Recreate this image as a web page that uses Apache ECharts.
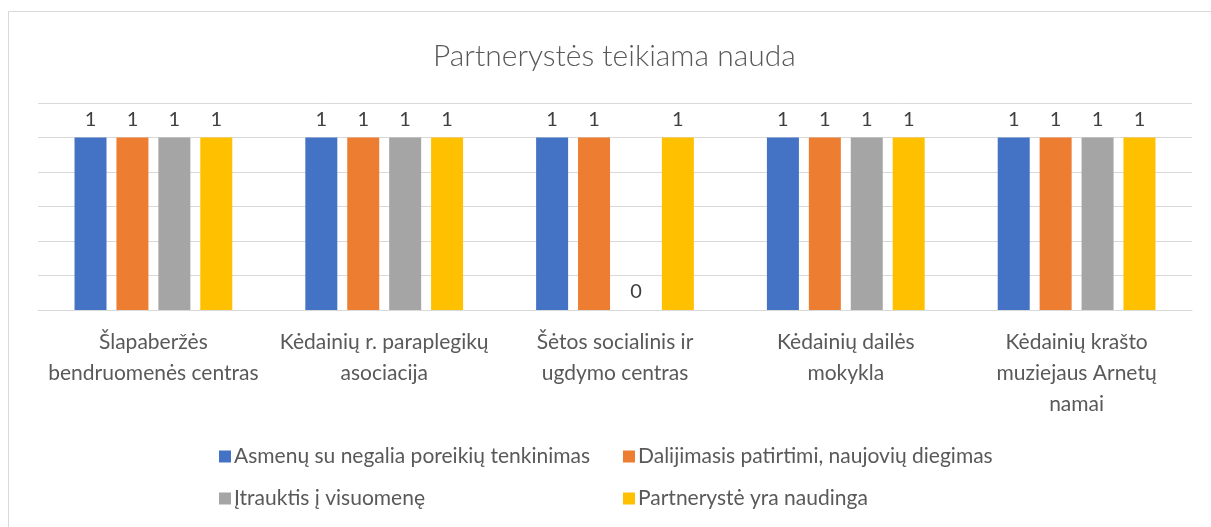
<!DOCTYPE html>
<html>
<head>
<meta charset="utf-8">
<script src="https://cdn.jsdelivr.net/npm/echarts@6/dist/echarts.min.js"></script>
<style>
  html, body { margin: 0; padding: 0; background: #fff; }
  #chart { width: 1211px; height: 527px; }
</style>
</head>
<body>
<div id="chart"></div>
<script>
const categories = [
  "Šlapaberžės\nbendruomenės centras",
  "Kėdainių r. paraplegikų\nasociacija",
  "Šėtos socialinis ir\nugdymo centras",
  "Kėdainių dailės\nmokykla",
  "Kėdainių krašto\nmuziejaus Arnetų\nnamai"
];
const seriesNames = [
  "Asmenų su negalia poreikių tenkinimas",
  "Dalijimasis patirtimi, naujovių diegimas",
  "Įtrauktis į visuomenę",
  "Partnerystė yra naudinga"
];
const needsValues = [1, 1, 1, 1, 1];
const sharingValues = [1, 1, 1, 1, 1];
const inclusionValues = [1, 1, 0, 1, 1];
const usefulValues = [1, 1, 1, 1, 1];
const colors = ["#4472c4", "#ed7d31", "#a5a5a5", "#ffc000"];

const font = "Lato, 'Open Sans', sans-serif";
const textColor = "#595959";

let dom = document.getElementById("chart");
let myChart = echarts.init(dom, null, { renderer: "canvas" });

const allValues = [needsValues, sharingValues, inclusionValues, usefulValues];

const makeLegend = (name, left, top) => ({
  data: [name],
  left: left,
  top: top,
  icon: "rect",
  itemWidth: 12,
  itemHeight: 12,
  itemGap: 0,
  textStyle: { fontFamily: font, fontSize: 21, color: textColor, padding: [0, 0, 0, -2] }
});

let option = {
  animation: false,
  backgroundColor: "#fff",
  title: {
    text: "Partnerystės teikiama nauda",
    left: 428,
    top: 36,
    textStyle: { fontFamily: font, fontSize: 30, fontWeight: 300, color: textColor }
  },
  graphic: [{
    type: "rect",
    shape: { x: 8.5, y: 11.5, width: 1220, height: 540 },
    style: { fill: null, stroke: "#d9d9d9", lineWidth: 1 },
    silent: true
  }],
  legend: [
    makeLegend(seriesNames[0], 214, 441),
    makeLegend(seriesNames[1], 618, 441),
    makeLegend(seriesNames[2], 214, 483),
    makeLegend(seriesNames[3], 618, 483)
  ],
  grid: { left: 38, right: 19, top: 103, bottom: 217 },
  xAxis: {
    type: "category",
    data: categories,
    axisLine: { lineStyle: { color: "#d9d9d9" } },
    axisTick: { show: false },
    axisLabel: {
      interval: 0,
      margin: 17,
      fontFamily: font,
      fontSize: 21,
      lineHeight: 31,
      color: textColor,
      verticalAlign: "top"
    }
  },
  yAxis: {
    type: "value",
    min: 0,
    max: 1.2,
    interval: 0.2,
    axisLabel: { show: false },
    axisLine: { show: false },
    axisTick: { show: false },
    splitLine: { lineStyle: { color: "#d9d9d9" } }
  },
  series: allValues.map((vals, i) => ({
    name: seriesNames[i],
    type: "bar",
    data: vals,
    barWidth: 32,
    barGap: "31%",
    itemStyle: { color: colors[i] },
    label: {
      show: true,
      position: "top",
      distance: 8,
      fontFamily: font,
      fontSize: 20,
      color: "#404040"
    }
  }))
};

myChart.setOption(option);
</script>
</body>
</html>
